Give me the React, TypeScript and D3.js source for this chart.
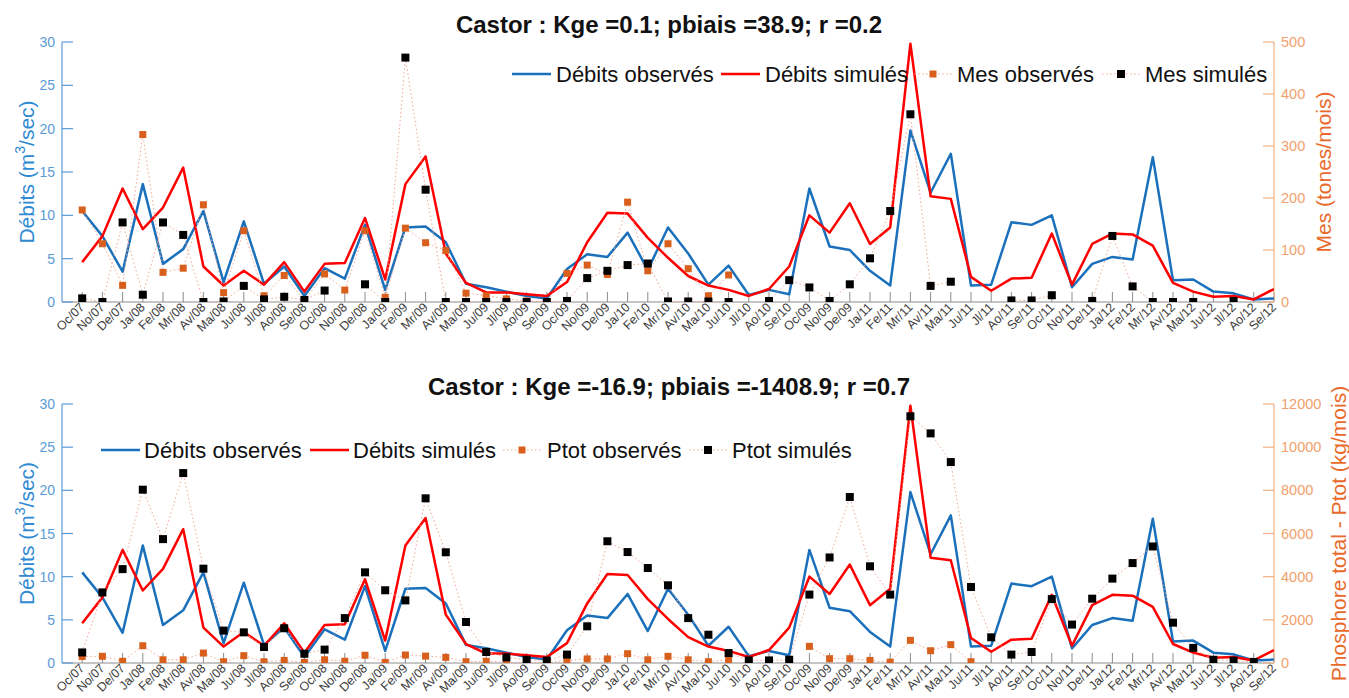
import React from 'react';
import * as d3 from 'd3';

// month labels as printed on the original chart (Oc/09..De/09 appear twice there)
const months = [
  'Oc/07', 'No/07', 'De/07', 'Ja/08', 'Fe/08', 'Mr/08', 'Av/08', 'Ma/08', 'Ju/08', 'Jl/08', 'Ao/08', 'Se/08',
  'Oc/08', 'No/08', 'De/08', 'Ja/09', 'Fe/09', 'Mr/09', 'Av/09', 'Ma/09', 'Ju/09', 'Jl/09', 'Ao/09', 'Se/09',
  'Oc/09', 'No/09', 'De/09', 'Ja/10', 'Fe/10', 'Mr/10', 'Av/10', 'Ma/10', 'Ju/10', 'Jl/10', 'Ao/10', 'Se/10',
  'Oc/09', 'No/09', 'De/09', 'Ja/11', 'Fe/11', 'Mr/11', 'Av/11', 'Ma/11', 'Ju/11', 'Jl/11', 'Ao/11', 'Se/11',
  'Oc/11', 'No/11', 'De/11', 'Ja/12', 'Fe/12', 'Mr/12', 'Av/12', 'Ma/12', 'Ju/12', 'Jl/12', 'Ao/12', 'Se/12',
];

// discharge (m3/sec), same in both panels
const debitsObs = [
  10.5, 7.6, 3.5, 13.6, 4.4, 6.1, 10.5, 2.3, 9.3, 2.1, 4.1, 0.7,
  3.9, 2.7, 8.9, 1.4, 8.6, 8.7, 6.9, 2.1, 1.7, 1.2, 0.7, 0.4,
  3.8, 5.5, 5.2, 8.0, 3.7, 8.6, 5.6, 2.0, 4.2, 0.8, 1.4, 0.9,
  13.1, 6.4, 6.0, 3.6, 1.9, 19.8, 12.6, 17.1, 1.9, 2.0, 9.2, 8.9,
  10.0, 1.7, 4.4, 5.2, 4.9, 16.7, 2.5, 2.6, 1.2, 1.0, 0.3, 0.4,
];
const debitsSim = [
  4.6, 7.6, 13.1, 8.4, 10.9, 15.5, 4.1, 1.9, 3.6, 2.0, 4.6, 1.2,
  4.4, 4.5, 9.7, 2.6, 13.6, 16.8, 5.6, 2.2, 1.1, 1.1, 0.9, 0.7,
  2.3, 6.9, 10.3, 10.2, 7.4, 5.1, 3.0, 1.9, 1.4, 0.7, 1.5, 4.1,
  10.0, 8.0, 11.4, 6.7, 8.6, 29.8, 12.2, 11.9, 2.9, 1.3, 2.7, 2.8,
  7.9, 2.0, 6.7, 7.9, 7.8, 6.5, 2.2, 1.2, 0.6, 0.7, 0.3, 1.5,
];

// suspended matter (tones/mois)
const mesObs = [
  177, 112, 32, 322, 57, 65, 187, 18, 137, 12, 51, 3,
  54, 23, 137, 9, 142, 114, 99, 17, 12, 6, 2, 1,
  55, 71, 53, 192, 60, 112, 64, 12, 52, null, null, null,
  null, null, null, null, null, null, null, null, null, null, null, null,
  null, null, null, null, null, null, null, null, null, null, null, null,
];
const mesSim = [
  7, 0, 153, 14, 153, 129, 0, 1, 31, 5, 10, 4,
  22, null, 34, 0, 470, 216, 0, 0, 0, 0, 0, 0,
  2, 46, 60, 71, 74, 1, 1, 1, 0, null, 2, 42,
  28, 2, 34, 84, 175, 361, 31, 39, null, null, 3, 3,
  13, null, 2, 127, 30, 0, 0, 0, null, 2, null, null,
];

// total phosphorus (kg/mois)
const ptotObs = [
  300, 310, 80, 800, 150, 150, 460, 60, 340, 60, 120, 30,
  150, 80, 360, 30, 370, 320, 260, 60, 80, 40, 20, 20,
  120, 190, 190, 430, 150, 310, 150, 60, 150, null, null, null,
  770, 200, 200, 120, 40, 1050, 570, 850, 60, null, null, null,
  null, null, null, null, null, null, null, null, null, null, null, null,
];
const ptotSim = [
  490, 3270, 4350, 8030, 5740, 8800, 4370, 1500, 1420, 740, 1610, 430,
  620, 2080, 4200, 3370, 2900, 7630, 5130, 1900, 510, 260, 150, 110,
  390, 1700, 5640, 5140, 4400, 3600, 2080, 1310, 460, 120, 120, 150,
  3170, 4890, 7690, 4480, 3170, 11430, 10640, 9310, 3520, 1190, 390, 510,
  2960, 1780, 2980, 3910, 4630, 5400, 1870, 700, 150, 110, 50, null,
];

const W = 1349;
const H = 698;
const X0 = 62;
const X1 = 1274;
const FONT = 'Arial, "Liberation Sans", Helvetica, sans-serif';

const BLUE = '#1b70bb';
const RED = '#ff0000';
const ORANGE = '#d9601c';
const DOT = '#f3a794';

const x = d3.scaleLinear().domain([-1, months.length - 1]).range([X0, X1]);

type Legend = { text: string; x: number };

interface PanelProps {
  id: string;
  top: number;
  bottom: number;
  title: string;
  titleY: number;
  rightMax: number;
  rightTicks: number;
  rightLabel: string;
  rightLabelX: number;
  obs: (number | null)[];
  sim: (number | null)[];
  legendY: number;
  legend: { lineObs: number; lineSim: number; ptObs: number; ptSim: number; texts: Legend[] };
}

const Panel: React.FC<PanelProps> = (p) => {
  const yL = d3.scaleLinear().domain([0, 30]).range([p.bottom, p.top]);
  const yR = d3.scaleLinear().domain([0, p.rightMax]).range([p.bottom, p.top]);

  const flowLine = d3.line<number>().x((_, i) => x(i)).y((d) => yL(d));
  const loadLine = d3.line<number | null>()
    .defined((d) => d != null)
    .x((_, i) => x(i))
    .y((d) => yR(d as number));

  const midY = (p.top + p.bottom) / 2;
  const lg = p.legend;
  const ly = p.legendY;

  return (
    <g>
      <defs>
        <clipPath id={`clip-${p.id}`}>
          <rect x={X0} y={p.top - 2} width={X1 - X0} height={p.bottom - p.top + 2} />
        </clipPath>
      </defs>

      <text x={669} y={p.titleY} textAnchor="middle" fontSize={24} fontWeight="bold" fill="#111">
        {p.title}
      </text>

      {/* x axis */}
      <line x1={X0} x2={X1} y1={p.bottom} y2={p.bottom} stroke="#8c8c8c" strokeWidth={1} />
      {months.map((m, i) => (
        <g key={i}>
          <line x1={x(i)} x2={x(i)} y1={p.bottom} y2={p.bottom - 10} stroke="#8c8c8c" strokeWidth={1} />
          <text
            transform={`translate(${x(i) + 3},${p.bottom + 6}) rotate(-45)`}
            textAnchor="end"
            fontSize={12.5}
            fill="#3c3c3c"
          >
            {m}
          </text>
        </g>
      ))}

      {/* left axis */}
      <line x1={X0} x2={X0} y1={p.top} y2={p.bottom} stroke="#5b9bd5" strokeWidth={1.2} />
      {yL.ticks(6).map((t) => (
        <g key={t}>
          <line x1={X0} x2={X0 + 11} y1={yL(t)} y2={yL(t)} stroke="#5b9bd5" strokeWidth={1.2} />
          <text x={X0 - 7} y={yL(t) + 5} textAnchor="end" fontSize={14} fill="#5b9bd5">{t}</text>
        </g>
      ))}
      <text transform={`translate(34,${midY}) rotate(-90)`} textAnchor="middle" fontSize={21} fill="#2f8ad4">
        <tspan>Débits (m</tspan>
        <tspan dy={-9} fontSize={14}>3</tspan>
        <tspan dy={9}>/sec)</tspan>
      </text>

      {/* right axis */}
      <line x1={X1} x2={X1} y1={p.top} y2={p.bottom} stroke="#f4b183" strokeWidth={1.2} />
      {yR.ticks(p.rightTicks).map((t) => (
        <g key={t}>
          <line x1={X1 - 11} x2={X1} y1={yR(t)} y2={yR(t)} stroke="#f4b183" strokeWidth={1.2} />
          <text x={X1 + 7} y={yR(t) + 5} fontSize={14.5} fill="#f0a06e">{t}</text>
        </g>
      ))}
      <text
        transform={`translate(${p.rightLabelX},${midY}) rotate(-90)`}
        textAnchor="middle"
        fontSize={21}
        fill="#e8692a"
      >
        {p.rightLabel}
      </text>

      {/* data */}
      <g clipPath={`url(#clip-${p.id})`}>
        <path d={flowLine(debitsObs) || ''} fill="none" stroke={BLUE} strokeWidth={2.5} strokeLinejoin="round" />
        <path d={flowLine(debitsSim) || ''} fill="none" stroke={RED} strokeWidth={2.5} strokeLinejoin="round" />
        <path d={loadLine(p.obs) || ''} fill="none" stroke={DOT} strokeWidth={1} strokeDasharray="1.5,2.5" />
        <path d={loadLine(p.sim) || ''} fill="none" stroke={DOT} strokeWidth={1} strokeDasharray="1.5,2.5" />
        {p.obs.map((d, i) =>
          d == null ? null : <rect key={i} x={x(i) - 3.5} y={yR(d) - 3.5} width={7} height={7} fill={ORANGE} />
        )}
        {p.sim.map((d, i) =>
          d == null ? null : <rect key={i} x={x(i) - 4} y={yR(d) - 4} width={8} height={8} fill="#000" />
        )}
      </g>

      {/* legend */}
      <line x1={lg.lineObs} x2={lg.lineObs + 39} y1={ly} y2={ly} stroke={BLUE} strokeWidth={2.5} />
      <line x1={lg.lineSim} x2={lg.lineSim + 39} y1={ly} y2={ly} stroke={RED} strokeWidth={2.5} />
      <line x1={lg.ptObs - 19} x2={lg.ptObs + 19} y1={ly} y2={ly} stroke={DOT} strokeWidth={1} strokeDasharray="1.5,2.5" />
      <rect x={lg.ptObs - 3.5} y={ly - 3.5} width={7} height={7} fill={ORANGE} />
      <line x1={lg.ptSim - 19} x2={lg.ptSim + 19} y1={ly} y2={ly} stroke={DOT} strokeWidth={1} strokeDasharray="1.5,2.5" />
      <rect x={lg.ptSim - 4} y={ly - 4} width={8} height={8} fill="#000" />
      {lg.texts.map((t) => (
        <text key={t.text} x={t.x} y={ly + 8} fontSize={22} fill="#111">{t.text}</text>
      ))}
    </g>
  );
};

export default function App() {
  return (
    <svg
      width={W}
      height={H}
      style={{ position: 'absolute', left: 0, top: 0, background: '#fff' }}
      fontFamily={FONT}
    >
      <Panel
        id="mes"
        top={42}
        bottom={302}
        title="Castor : Kge =0.1; pbiais =38.9; r =0.2"
        titleY={33}
        rightMax={500}
        rightTicks={5}
        rightLabel="Mes (tones/mois)"
        rightLabelX={1331}
        obs={mesObs}
        sim={mesSim}
        legendY={74}
        legend={{
          lineObs: 512,
          lineSim: 721,
          ptObs: 933,
          ptSim: 1121,
          texts: [
            { text: 'Débits observés', x: 556 },
            { text: 'Débits simulés', x: 765 },
            { text: 'Mes observés', x: 957 },
            { text: 'Mes simulés', x: 1145 },
          ],
        }}
      />
      <Panel
        id="ptot"
        top={404}
        bottom={663}
        title="Castor : Kge =-16.9; pbiais =-1408.9; r =0.7"
        titleY={395}
        rightMax={12000}
        rightTicks={6}
        rightLabel="Phosphore total - Ptot (kg/mois)"
        rightLabelX={1346}
        obs={ptotObs}
        sim={ptotSim}
        legendY={450}
        legend={{
          lineObs: 101,
          lineSim: 310,
          ptObs: 522,
          ptSim: 708,
          texts: [
            { text: 'Débits observés', x: 144 },
            { text: 'Débits simulés', x: 353 },
            { text: 'Ptot observés', x: 547 },
            { text: 'Ptot simulés', x: 732 },
          ],
        }}
      />
    </svg>
  );
}
